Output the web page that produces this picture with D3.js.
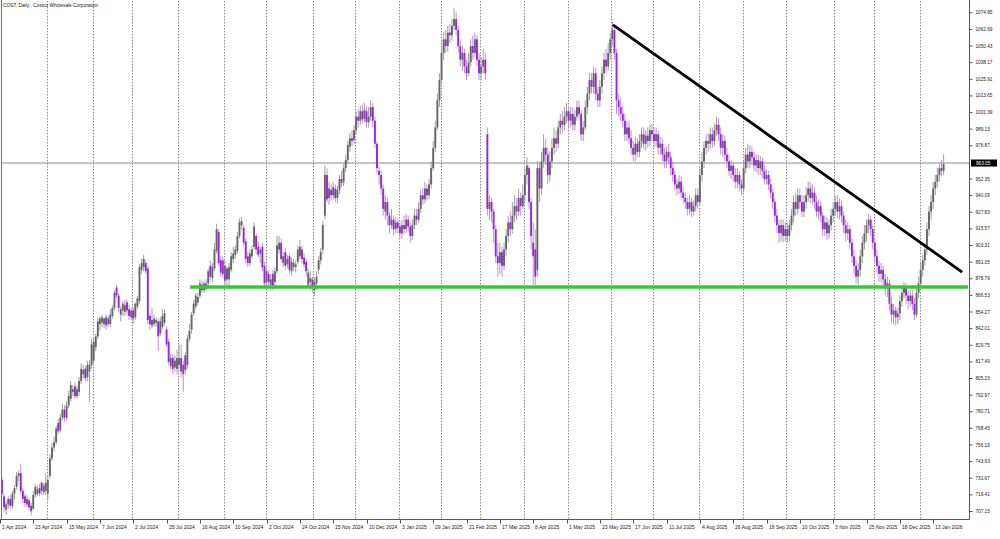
<!DOCTYPE html>
<html><head><meta charset="utf-8">
<script src="https://cdn.jsdelivr.net/npm/d3@7"></script>
<style>html,body{margin:0;padding:0;background:#fff;overflow:hidden}</style>
</head><body>
<svg id="chart" width="1000" height="539"></svg>
<script>
// ---- DATA: daily candles [open, high, low, close], grouped by month ----
const apr2024=[[730,732,718,720],[718,720,706,710],[708,714,704,712],[712,718,709,716],[716,719,709,711],[711,722,709,720],[720,726,716,724],[725,736,723,733],[733,737,729,735],[735,742,720,722],[722,724,713,716],[718,720,710,713],[712,719,710,716],[715,717,708,710],[711,713,704,707],[709,722,708,719],[719,727,717,725],[720,726,718,723],[724,727,718,720],[728,729,719,722],[721,728,719,726],[722,735,719,728]];
const may2024=[[720,733,716,730],[733,749,731,746],[746,757,744,754],[754,762,751,758],[758,770,756,768],[772,775,764,766],[767,779,765,776],[776,786,774,782],[782,785,773,776],[776,788,774,785],[785,796,783,792],[790,803,788,800],[795,800,792,797],[799,802,790,792],[792,800,790,797],[795,806,792,803],[803,816,801,812],[808,815,805,811],[812,814,803,805],[806,818,803,815],[810,818,788,815],[815,834,812,830]];
const jun2024=[[818,835,816,832],[828,838,825,836],[836,850,834,847],[845,851,840,849],[846,852,843,850],[845,850,842,849],[850,852,841,844],[845,851,843,849],[845,856,843,852],[851,859,849,857],[857,870,855,868],[872,874,864,866],[866,868,854,857],[852,858,847,856],[855,862,851,860],[854,863,851,859],[861,863,852,855],[856,859,848,851],[850,857,848,855]];
const jul2024=[[855,857,845,849],[850,861,848,860],[858,866,856,864],[862,889,860,887],[885,893,882,890],[887,896,884,893],[890,892,882,884],[886,888,845,848],[851,853,841,845],[844,857,842,848],[845,852,843,849],[846,850,843,848],[847,849,825,836],[838,850,836,847],[843,856,841,851],[846,856,844,853],[841,843,828,830],[832,834,815,817],[814,823,812,820],[820,823,808,812],[813,822,810,818],[812,826,808,820]];
const aug2024=[[815,830,812,820],[820,830,806,810],[808,818,795,815],[822,824,808,811],[815,837,812,834],[834,845,832,840],[841,854,838,852],[853,863,851,860],[858,868,856,866],[861,868,859,865],[866,878,864,875],[870,877,868,874],[875,877,868,870],[871,878,869,875],[875,886,872,884],[888,892,877,880],[879,890,876,887],[886,905,884,900],[899,919,897,915],[913,915,888,890],[892,895,880,883],[892,895,879,882]];
const sep2024=[[877,892,874,888],[886,888,872,878],[878,890,870,887],[885,898,883,895],[893,902,890,897],[896,903,893,900],[899,913,897,910],[910,923,908,920],[918,924,915,921],[916,918,903,905],[906,908,890,893],[895,898,887,890],[890,900,888,897],[895,903,893,900],[902,920,900,917],[910,912,897,900],[902,906,894,896],[897,902,890,900],[902,905,884,887],[888,891,872,875]];
const oct2024=[[876,887,872,884],[882,885,873,876],[874,882,869,878],[882,885,870,873],[876,887,873,884],[884,910,882,903],[900,910,897,905],[905,908,891,893],[890,898,887,895],[898,901,885,888],[889,896,886,893],[895,897,882,885],[884,894,881,891],[887,893,884,890],[887,892,883,889],[891,903,889,900],[895,907,893,902],[900,903,890,893],[894,897,887,889],[891,893,880,884],[874,886,872,883],[876,884,870,879],[878,880,868,872]];
const nov2024=[[870,879,866,876],[875,884,872,880],[885,895,882,892],[892,901,889,898],[900,921,897,918],[925,962,922,955],[955,960,935,937],[938,950,933,945],[944,948,936,940],[940,950,937,946],[945,948,935,938],[938,947,934,944],[944,955,941,952],[952,958,946,949],[950,963,947,960],[960,970,957,966],[966,980,963,977],[976,986,972,982],[982,988,976,980],[981,992,978,988]];
const dec2024=[[988,1002,985,998],[998,1004,990,995],[995,1006,992,1002],[1002,1007,993,996],[996,1008,994,1003],[1002,1006,990,994],[994,1005,990,998],[998,1010,995,1005],[1005,1008,990,995],[995,998,975,978],[978,980,956,960],[958,962,948,955],[955,958,940,945],[945,948,925,930],[928,940,922,935],[935,938,918,925],[925,928,912,918],[918,930,915,922],[922,925,910,915],[915,924,912,920],[920,923,912,916]];
const jan2025=[[917,920,908,912],[912,922,908,918],[918,925,911,915],[915,926,912,922],[922,925,913,917],[917,920,905,910],[910,922,907,918],[918,930,915,925],[925,930,918,922],[922,935,920,930],[930,944,927,940],[940,945,933,937],[937,950,934,945],[945,948,936,940],[940,952,937,948],[948,965,945,960],[960,980,958,975],[975,995,972,990],[990,1015,988,1010],[1010,1030,1005,1025]];
const feb2025=[[1025,1050,1022,1045],[1045,1060,1040,1055],[1055,1062,1045,1050],[1050,1065,1046,1060],[1060,1066,1052,1058],[1058,1070,1054,1065],[1065,1078,1062,1070],[1070,1075,1058,1062],[1062,1065,1045,1050],[1050,1055,1035,1040],[1040,1050,1032,1045],[1045,1048,1030,1035],[1035,1040,1025,1030],[1030,1045,1028,1038],[1038,1055,1035,1050],[1050,1058,1040,1045],[1045,1060,1042,1055],[1055,1058,1035,1040],[1040,1045,1025,1030]];
const mar2025=[[1030,1042,1025,1035],[1035,1048,1030,1040],[1040,1045,1025,1030],[985,990,925,930],[930,940,922,935],[935,938,920,928],[928,930,905,915],[915,918,890,895],[895,905,880,890],[890,905,882,898],[898,902,880,888],[888,905,885,900],[900,915,895,910],[910,925,905,920],[920,928,910,915],[915,935,912,925],[925,940,920,932],[932,938,922,928],[928,945,925,938],[938,942,925,932],[932,948,930,940]];
const apr2025=[[940,960,935,955],[955,968,948,962],[960,962,930,935],[935,938,900,910],[905,920,874,895],[900,915,874,880],[885,965,880,960],[960,965,935,945],[945,972,940,965],[965,985,960,975],[975,982,962,970],[970,975,948,955],[955,972,950,965],[965,982,960,975],[975,990,970,982],[982,988,972,978],[978,995,975,990],[990,1000,985,995],[995,1002,986,992],[992,1005,988,998],[998,1008,993,1002]];
const may2025=[[1002,1006,990,995],[995,1005,990,1000],[1000,1005,988,992],[992,1003,988,998],[998,1010,995,1005],[1005,1010,996,1000],[1000,1003,980,985],[985,995,980,990],[990,1010,988,1005],[1005,1020,1000,1015],[1015,1030,1010,1025],[1025,1030,1015,1020],[1020,1035,1015,1030],[1030,1034,1010,1015],[1015,1020,1005,1010],[1010,1025,1005,1020],[1020,1035,1015,1030],[1030,1045,1025,1040],[1040,1048,1030,1035],[1035,1052,1032,1045],[1045,1060,1040,1055]];
const jun2025=[[1055,1068,1050,1062],[1062,1066,1040,1045],[1045,1048,1000,1010],[1010,1015,998,1005],[1005,1012,995,1000],[1000,1006,990,995],[995,1000,980,985],[985,995,980,990],[990,995,978,982],[982,988,970,975],[975,980,965,970],[970,983,965,978],[978,982,968,972],[972,985,968,980],[980,990,975,985],[985,990,974,978],[978,988,973,984],[984,990,975,980],[980,992,976,988],[988,993,980,985]];
const jul2025=[[985,990,975,980],[980,990,976,985],[985,988,970,975],[975,983,970,978],[978,982,965,970],[970,975,960,965],[965,976,960,972],[972,978,963,968],[968,972,955,960],[960,965,950,955],[955,958,944,948],[948,952,940,945],[945,955,941,950],[950,954,938,942],[942,946,934,938],[938,942,930,935],[935,938,925,930],[930,940,926,935],[935,938,924,928],[928,936,925,932],[932,945,928,940],[940,945,930,935]];
const aug2025=[[935,960,932,955],[955,972,950,965],[965,980,960,975],[975,985,970,980],[980,986,972,978],[978,990,974,985],[985,990,975,980],[980,993,976,988],[988,998,984,992],[992,997,980,985],[985,990,970,975],[975,985,968,980],[980,984,965,970],[970,975,960,965],[965,970,954,958],[958,966,952,962],[962,965,950,955],[955,960,945,950],[950,960,945,955],[955,958,943,948],[948,952,940,945]];
const sep2025=[[945,965,942,960],[960,975,956,970],[970,978,960,965],[965,977,960,972],[972,976,962,968],[968,972,958,962],[962,970,957,966],[966,970,955,960],[960,969,955,965],[965,968,953,958],[958,962,948,952],[952,959,948,955],[955,958,944,948],[948,952,938,942],[942,945,930,935],[935,938,920,925],[925,930,912,918],[918,922,905,912],[912,922,906,918],[918,922,905,910],[910,920,906,915]];
const oct2025=[[915,920,905,910],[910,922,906,918],[918,930,914,925],[925,940,920,935],[935,942,925,930],[930,945,926,940],[940,945,930,935],[935,940,924,928],[928,940,924,935],[935,946,930,940],[940,950,935,945],[945,950,934,938],[938,948,933,942],[942,946,930,935],[935,940,924,928],[928,937,922,932],[932,936,920,925],[925,928,910,915],[915,925,910,920],[920,924,907,912],[912,922,908,918],[918,930,914,925],[925,935,920,930]];
const nov2025=[[930,940,925,935],[935,940,923,928],[928,938,922,932],[932,936,920,925],[925,928,912,918],[918,922,906,912],[912,920,907,915],[915,918,900,905],[905,908,890,895],[895,900,882,888],[888,892,875,880],[880,890,874,885],[885,900,880,895],[895,910,890,905],[905,918,900,912],[912,922,906,918],[918,926,912,922],[922,925,910,915],[915,918,900,905]];
const dec2025=[[905,908,890,895],[895,900,882,888],[888,892,876,882],[882,890,876,885],[885,888,872,878],[878,882,866,872],[872,880,865,875],[875,878,855,860],[860,865,846,852],[852,860,845,855],[855,858,844,850],[850,857,845,853],[853,866,848,862],[862,872,858,868],[868,876,864,872],[872,875,860,866],[866,870,856,862],[862,870,858,866],[866,870,855,860],[860,864,848,852],[852,872,850,868],[868,880,864,875]];
const jan2026=[[875,890,872,885],[885,896,880,892],[892,905,888,900],[900,920,896,915],[915,932,910,928],[928,940,922,935],[935,950,930,945],[945,955,940,950],[950,960,946,955],[955,964,950,960],[960,966,954,958],[958,970,955,963]];

const months=[apr2024,may2024,jun2024,jul2024,aug2024,sep2024,oct2024,nov2024,dec2024,jan2025,feb2025,mar2025,apr2025,may2025,jun2025,jul2025,aug2025,sep2025,oct2025,nov2025,dec2025,jan2026];

const dateLabels=["1 Apr 2024","23 Apr 2024","15 May 2024","7 Jun 2024","2 Jul 2024","25 Jul 2024","16 Aug 2024","10 Sep 2024","2 Oct 2024","24 Oct 2024","15 Nov 2024","10 Dec 2024","3 Jan 2025","29 Jan 2025","21 Feb 2025","17 Mar 2025","8 Apr 2025","1 May 2025","23 May 2025","17 Jun 2025","11 Jul 2025","4 Aug 2025","26 Aug 2025","18 Sep 2025","10 Oct 2025","3 Nov 2025","25 Nov 2025","18 Dec 2025","13 Jan 2026"];
const barsPerLabel=16;
const priceTicks=[1074.95,1062.69,1050.43,1038.17,1025.91,1013.65,1001.39,989.13,976.87,952.35,940.09,927.83,915.57,903.31,891.05,878.79,866.53,854.27,842.01,829.75,817.49,805.23,792.97,780.71,768.45,756.19,743.93,731.67,719.41,707.15];
const lastPrice=963.05;
const titleParts=["COST, Daily:","Costco Wholesale Corporation"];
const supportLine={fromBar:90.3,price:872.4};
const trendLine={bar1:293.3,price1:1065.6,bar2:460.9,price2:883.4};

// ---- build ----
const candles=[].concat(...months).map((d,i)=>({i,o:d[0],h:d[1],l:d[2],c:d[3]}));
const monthStarts=[];{let s=0;months.forEach((m,k)=>{if(k>0)monthStarts.push(s);s+=m.length;});}

const plotL=1,plotR=969,plotT=1,plotB=519;
const svg=d3.select("#chart");
const x=d3.scaleLinear().domain([0,464.2]).range([2,969]);
const y=d3.scaleLinear().domain([707.15,1074.95]).range([511,12.3]);
const font="'Liberation Sans',Arial,sans-serif";

// grid (month starts)
svg.append("g").selectAll("line").data(monthStarts).join("line")
  .attr("x1",d=>Math.round(x(d))-0.5).attr("x2",d=>Math.round(x(d))-0.5)
  .attr("y1",plotT).attr("y2",plotB)
  .attr("stroke","#8a8a8a").attr("stroke-width",1).attr("stroke-dasharray","1.5,1.5");

// last price line
svg.append("line").attr("x1",plotL).attr("x2",plotR)
  .attr("y1",y(lastPrice)-1).attr("y2",y(lastPrice)-1)
  .attr("stroke","#8c8c8c").attr("stroke-width",1);

// candles
const bw=1.9;
const cg=svg.append("g");
cg.selectAll("line.w").data(candles).join("line").attr("class","w")
  .attr("x1",d=>x(d.i)).attr("x2",d=>x(d.i))
  .attr("y1",d=>y(d.h)).attr("y2",d=>y(d.l))
  .attr("stroke",d=>d.c>=d.o?"#a0a0a0":"#c88ce8").attr("stroke-width",1);
cg.selectAll("rect").data(candles).join("rect")
  .attr("x",d=>x(d.i)-bw/2).attr("width",bw)
  .attr("y",d=>y(Math.max(d.o,d.c)))
  .attr("height",d=>Math.max(1,Math.abs(y(d.o)-y(d.c))))
  .attr("fill",d=>d.c>=d.o?"#666":"#9a26dc");

// support line (green)
svg.append("line")
  .attr("x1",x(supportLine.fromBar)).attr("x2",plotR-1)
  .attr("y1",y(supportLine.price)).attr("y2",y(supportLine.price))
  .attr("stroke","#2ecc2e").attr("stroke-width",3.6);

// trend line (black)
svg.append("line")
  .attr("x1",x(trendLine.bar1)).attr("y1",y(trendLine.price1))
  .attr("x2",x(trendLine.bar2)).attr("y2",y(trendLine.price2))
  .attr("stroke","#000").attr("stroke-width",2.8);

// frame
svg.append("line").attr("x1",1.5).attr("x2",1.5).attr("y1",0).attr("y2",plotB).attr("stroke","#6f6f6f");
svg.append("line").attr("x1",plotR+0.5).attr("x2",plotR+0.5).attr("y1",0).attr("y2",plotB+0.5).attr("stroke","#555");
svg.append("line").attr("x1",0).attr("x2",plotR+0.5).attr("y1",plotB+0.5).attr("y2",plotB+0.5).attr("stroke","#555");

// right price axis
const ya=svg.append("g").attr("transform",`translate(${plotR+0.5},0)`)
  .call(d3.axisRight(y).tickValues(priceTicks).tickSize(3).tickFormat(d3.format(".2f")));
ya.select(".domain").remove();
ya.selectAll(".tick line").attr("stroke","#555");
ya.selectAll(".tick text").attr("x",6).attr("font-family",font).attr("font-size","4.7px").attr("fill","#222");

// last price label
const lp=svg.append("g").attr("transform",`translate(${plotR+1},${y(lastPrice)-1})`);
lp.append("rect").attr("x",1).attr("y",-3.5).attr("width",26).attr("height",7).attr("fill","#000");
lp.append("text").attr("x",6).attr("y",1.7).attr("font-family",font).attr("font-size","4.7px").attr("fill","#fff").text(lastPrice.toFixed(2));

// bottom time axis
const labelIdx=dateLabels.map((d,k)=>k*barsPerLabel);
const xa=svg.append("g").attr("transform",`translate(0,${plotB+0.5})`)
  .call(d3.axisBottom(x).tickValues(labelIdx).tickSize(4).tickFormat((d,k)=>dateLabels[k]));
xa.select(".domain").remove();
xa.selectAll(".tick").attr("transform",d=>`translate(${Math.round(x(d))-1.5},0)`);
xa.selectAll(".tick line").attr("stroke","#555");
xa.selectAll(".tick text").attr("text-anchor","start").attr("x",1.5).attr("y",9)
  .attr("dy",0).attr("font-family",font).attr("font-size","5px").attr("fill","#222");

// title
const t=svg.append("text").attr("x",3).attr("y",7).attr("font-family",font).attr("font-size","4.8px").attr("fill","#222").attr("xml:space","preserve");
t.text(titleParts.join("  "));
</script>
</body></html>
